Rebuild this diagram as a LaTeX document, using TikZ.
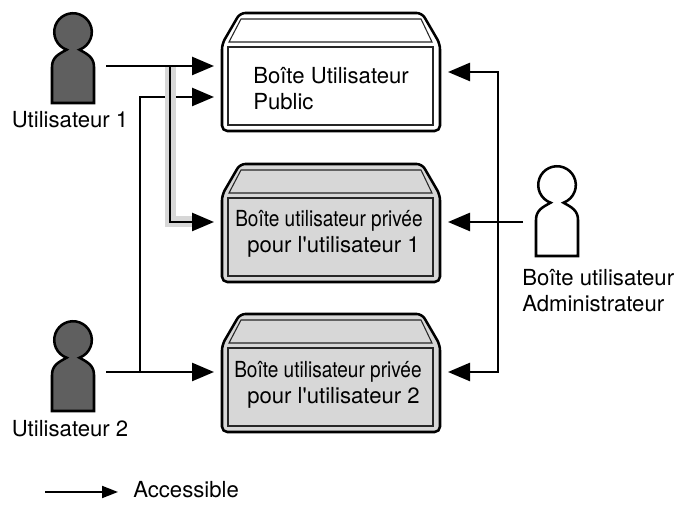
\documentclass[tikz,border=0pt]{standalone}
\usepackage{fontspec}
\setmainfont{TeX Gyre Heros}[Ligatures=TeXOff]
\usetikzlibrary{arrows.meta}

\definecolor{boxgray}{RGB}{215,215,215}
\definecolor{usergray}{RGB}{95,95,95}
\tikzset{
	link/.style={line width=1.9pt, -{Triangle[length=16.5pt, width=13.5pt]}},
	shell/.style={line width=1.9pt, rounded corners=4pt},
	panel/.style={draw=black!85, line width=0.8pt, minimum width=153.75pt, minimum height=58.5pt, inner sep=0pt, outer sep=0pt},
	lid/.style={draw=black!85, line width=0.8pt},
	person/.style={draw=black, line width=1.9pt, miter limit=4},
	lbl/.style={anchor=base west, inner sep=0pt, font=\fontsize{16.6}{19.5}\selectfont},
}

\begin{document}
\begin{tikzpicture}[x=0.75pt, y=0.75pt]
		\useasboundingbox (0,0) rectangle (679,507);
		
		% Mail boxes
		\foreach \yy/\col/\nm in {0/white/pub, -151/boxgray/prvA, -301/boxgray/prvB} {
			\draw[shell, fill=\col] (222,463+\yy) -- (240,494+\yy) -- (422,494+\yy) -- (440,463+\yy) -- (440,376+\yy) -- (222,376+\yy) -- cycle;
			\draw[lid] (229,465+\yy) -- (241,488+\yy) -- (421,488+\yy) -- (432,465+\yy) -- cycle;
			\node[panel] (\nm) at (330.5,421+\yy) {};
		}
		\node[lbl] (pubA) at (253,423) {Boîte Utilisateur};
		\node[lbl] (pubB) at (253,397) {Public};
		\node[lbl] (prvAa) at (235,280) {\scalebox{0.86}[1]{Boîte utilisateur privée}};
		\node[lbl] (prvAb) at (247,254) {pour l'utilisateur 1};
		\node[lbl] (prvBa) at (234,129) {\scalebox{0.86}[1]{Boîte utilisateur privée}};
		\node[lbl] (prvBb) at (247,103) {pour l'utilisateur 2};
		
		% Users
		\foreach \x/\y/\col in {73/475/usergray, 73/167/usergray, 557/322/white} {
			\begin{scope}[shift={(\x,\y)}]
				\draw[person, fill=\col] (-21,-71) -- (-21,-35) .. controls (-21,-25) and (-14,-22) .. (-6.4,-17.7) arc (250:-70:18.8) .. controls (14,-22) and (21,-25) .. (21,-35) -- (21,-71) -- cycle;
			\end{scope}
		}
		\node[lbl] (userA) at (11.5,379) {Utilisateur 1};
		\node[lbl] (userB) at (11.5,70) {Utilisateur 2};
		\node[lbl] (adminA) at (522,221) {Boîte utilisateur};
		\node[lbl] (adminB) at (522,195) {Administrateur};
		
		% Connector ends
		\coordinate (userAout) at (106,441);
		\coordinate (userBout) at (106,135);
		\coordinate (adminout) at (523,285);
		\coordinate (pubinA) at (214,441);
		\coordinate (pubinB) at (214,410);
		\coordinate (prvAin) at (214,285);
		\coordinate (prvBin) at (214,135);
		\coordinate (pubinR) at (448,435);
		\coordinate (prvAinR) at (448,285);
		\coordinate (prvBinR) at (448,135);
		\coordinate (busL) at (140,135);
		\coordinate (busM) at (170,441);
		\coordinate (busR) at (498,285);
		
		% Left side
		\draw[link] (userBout) -- (prvBin);
		\draw[link] (busL) |- (pubinB);
		\draw[boxgray, line width=8.25pt] (busM) |- (193,285);
		\draw[link] (userAout) -- (pubinA);
		\draw[link] (busM) |- (prvAin);
		
		% Right side
		\draw[link] (adminout) -- (prvAinR);
		\draw[link] (busR) |- (pubinR);
		\draw[link] (busR) |- (prvBinR);
		
		% Legend
		\coordinate (keyA) at (45,15);
		\coordinate (keyB) at (118,15);
		\draw[line width=1.4pt, -{Triangle[length=12pt, width=9pt]}] (keyA) -- (keyB);
		\node[lbl] (key) at (133,9) {Accessible};
		
	\end{tikzpicture}
\end{document}
